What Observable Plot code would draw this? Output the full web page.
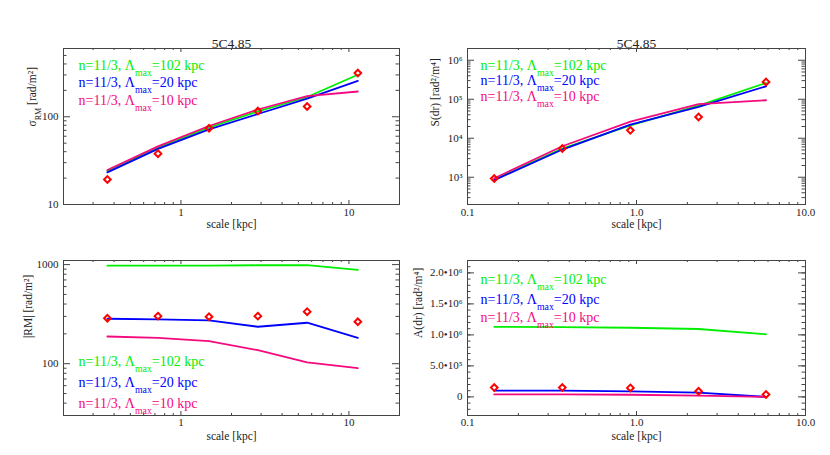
<!DOCTYPE html>
<html><head><meta charset="utf-8">
<script src="https://cdn.jsdelivr.net/npm/d3@7"></script>
<script src="https://cdn.jsdelivr.net/npm/@observablehq/plot@0.6"></script>
<style>
body{margin:0;background:#fff;}
#chart{position:relative;width:830px;height:455px;overflow:hidden;}
#chart svg{position:absolute;}
</style></head><body><div id="chart"></div>
<script>
// ---------- data ----------
const title = "5C4.85";
const xLabel = "scale [kpc]";
const legendLabels = ["n=11/3, Λ_{max}=102 kpc", "n=11/3, Λ_{max}=20 kpc", "n=11/3, Λ_{max}=10 kpc"];
const seriesColors = ["#00ee00", "#0000ff", "#f5097f"];
const obsColor = "#ff0000";

// scales (kpc)
const scaleRM = [0.365, 0.73, 1.47, 2.87, 5.64, 11.3];
const scaleS  = [0.144, 0.364, 0.92, 2.33, 5.84];

// panel 1: sigma_RM
const sigmaObs = [19.3, 38, 74, 116, 131, 315];
const sigma102 = [24.1, 44.7, 75.8, 115, 168, 301];
const sigma20  = [23.2, 43, 71.8, 107.5, 161, 256];
const sigma10  = [24.7, 45.9, 78.5, 121, 172, 194];

// panel 2: structure function S(dr)
const sObs = [930, 5440, 16000, 35200, 278000];
const s102 = [875, 5440, 21300, 68800, 262000];
const s20  = [840, 5130, 22400, 63500, 215000];
const s10  = [940, 6240, 26800, 74500, 94200];

// panel 3: |RM|
const rmObs = [288, 302, 298, 302, 335, 265];
const rm102 = [975, 975, 978, 985, 988, 885];
const rm20  = [284, 280, 273, 236, 259, 182];
const rm10  = [188, 182, 169, 137, 103, 90];

// panel 4: A(dr)
const aObs = [150000, 150000, 145000, 90000, 40000];
const a102 = [1130000, 1125000, 1115000, 1095000, 1010000];
const a20  = [100000, 100000, 90000, 70000, 0];
const a10  = [40000, 40000, 35000, 20000, 0];

// tick labels
const xTicksRM = [1, 10],            xTickLabelsRM = ["1", "10"];
const xTicksS  = [0.1, 1, 10],       xTickLabelsS  = ["0.1", "1.0", "10.0"];
const yTicksSigma = [10, 100],       yTickLabelsSigma = ["10", "100"];
const yTicksS  = [1e3, 1e4, 1e5, 1e6], yTickLabelsS = ["10³", "10⁴", "10⁵", "10⁶"];
const yTicksRM = [100, 1000],        yTickLabelsRM = ["100", "1000"];
const yTicksA  = [0, 5e5, 1e6, 1.5e6, 2e6], yTickLabelsA = ["0", "5.0•10⁵", "1.0•10⁶", "1.5•10⁶", "2.0•10⁶"];

// ---------- helpers ----------
function logMinor(lo, hi) {
  const out = [];
  for (let k = Math.floor(Math.log10(lo)); k <= Math.ceil(Math.log10(hi)); k++)
    for (let m = 2; m <= 9; m++) { const v = m * Math.pow(10, k); if (v >= lo && v <= hi) out.push(v); }
  return out;
}
function linMinor(lo, hi, step) {
  const out = [];
  for (let v = Math.ceil(lo / step) * step; v <= hi + 1e-9; v += step) out.push(v);
  return out;
}
const FONT = "Liberation Serif";
const INK = "#222";

function richify(svg) {
  svg.querySelectorAll("text").forEach(t => {
    const s = t.textContent;
    if (!/_\{/.test(s)) return;
    const parts = s.split(/(_\{[^}]*\})/).filter(p => p.length);
    while (t.firstChild) t.removeChild(t.firstChild);
    let pending = null;
    parts.forEach(p => {
      const ts = document.createElementNS("http://www.w3.org/2000/svg", "tspan");
      if (p.startsWith("_{")) {
        ts.textContent = p.slice(2, -1);
        ts.setAttribute("font-size", "70%");
        ts.setAttribute("dy", "0.6em");
        pending = "-0.42em";
      } else {
        ts.textContent = p;
        if (pending) { ts.setAttribute("dy", pending); pending = null; }
      }
      t.appendChild(ts);
    });
  });
}

function panel(c) {
  const fw = c.width - c.ml - c.mr, fh = c.height - c.mt - c.mb;
  const rowsOf = ys => c.xs.map((x, j) => ({x, y: ys[j]}));
  const T = {fontFamily: FONT, fill: INK};
  const marks = [
    Plot.frame({stroke: "#444", strokeWidth: 1}),
    Plot.ruleX(c.xMajor, {x: d => d, insetTop: fh - 4, stroke: "#444"}),
    Plot.ruleX(c.xMajor, {x: d => d, insetBottom: fh - 4, stroke: "#444"}),
    Plot.ruleX(c.xMinor, {x: d => d, insetTop: fh - 2, stroke: "#444"}),
    Plot.ruleX(c.xMinor, {x: d => d, insetBottom: fh - 2, stroke: "#444"}),
    Plot.ruleY(c.yMajor, {y: d => d, insetRight: fw - 7, stroke: "#444"}),
    Plot.ruleY(c.yMajor, {y: d => d, insetLeft: fw - 7, stroke: "#444"}),
    Plot.ruleY(c.yMinor, {y: d => d, insetRight: fw - 3.5, stroke: "#444"}),
    Plot.ruleY(c.yMinor, {y: d => d, insetLeft: fw - 3.5, stroke: "#444"}),
    Plot.text(c.xMajor, {x: d => d, frameAnchor: "bottom", dy: c.xTickDy, text: (d, i) => c.xLabels[i], fontSize: 11, ...T}),
    Plot.text(c.yMajor, {y: d => d, frameAnchor: "left", dx: -5, textAnchor: "end", text: (d, i) => c.yLabels[i], fontSize: 11, ...T}),
    Plot.text([xLabel], {frameAnchor: "bottom", dy: c.xLabelDy, text: d => d, fontSize: 11.5, ...T}),
    Plot.text([c.ylabel], {frameAnchor: "left", dx: c.ylabelDx, rotate: -90, text: d => d, fontSize: 11.5, ...T}),
    ...c.models.map((ys, i) => Plot.line(rowsOf(ys), {x: "x", y: "y", stroke: seriesColors[i], strokeWidth: 1.8})),
    Plot.dot(rowsOf(c.obs), {x: "x", y: "y", symbol: "diamond2", r: 3, stroke: obsColor, strokeWidth: 2, fill: "none"}),
    ...legendLabels.map((lab, i) => Plot.text([lab], {frameAnchor: "top-left", dx: c.legendDx, dy: c.legendDy[i], textAnchor: "start", text: d => d, fontFamily: FONT, fill: seriesColors[i], fontSize: 14}))
  ];
  if (c.showTitle) marks.push(Plot.text([title], {frameAnchor: "top", dy: -10, text: d => d, fontSize: 13.5, ...T}));
  const svg = Plot.plot({
    width: c.width, height: c.height,
    marginTop: c.mt, marginRight: c.mr, marginBottom: c.mb, marginLeft: c.ml,
    style: {fontFamily: FONT, background: "transparent", overflow: "visible"},
    x: {type: c.xType, domain: c.xDomain, axis: null},
    y: {type: c.yType, domain: c.yDomain, axis: null},
    marks
  });
  richify(svg);
  svg.style.left = c.left + "px";
  svg.style.top = c.top + "px";
  document.getElementById("chart").appendChild(svg);
}

panel({
  left: 0, top: 0, width: 415, height: 235, mt: 48, mr: 16, mb: 31, ml: 63,
  xType: "log", xDomain: [0.2, 20], yType: "log", yDomain: [10, 600],
  xMajor: xTicksRM, xMinor: logMinor(0.2, 20), xLabels: xTickLabelsRM,
  yMajor: yTicksSigma, yMinor: logMinor(10, 600), yLabels: yTickLabelsSigma,
  xs: scaleRM, obs: sigmaObs, models: [sigma102, sigma20, sigma10],
  ylabel: "σ_{RM} [rad/m²]", ylabelDx: -31, xTickDy: 11, xLabelDy: 23,
  legendDx: 15, legendDy: [11.5, 29, 46.3], showTitle: true
});
panel({
  left: 415, top: 0, width: 415, height: 235, mt: 48, mr: 25, mb: 31, ml: 52,
  xType: "log", xDomain: [0.1, 10], yType: "log", yDomain: [200, 2e6],
  xMajor: xTicksS, xMinor: logMinor(0.1, 10), xLabels: xTickLabelsS,
  yMajor: yTicksS, yMinor: logMinor(200, 2e6), yLabels: yTickLabelsS,
  xs: scaleS, obs: sObs, models: [s102, s20, s10],
  ylabel: "S(dr) [rad²/m⁴]", ylabelDx: -32, xTickDy: 11, xLabelDy: 23,
  legendDx: 13, legendDy: [12, 26.5, 42.5], showTitle: true
});
panel({
  left: 0, top: 235, width: 415, height: 220, mt: 25, mr: 16, mb: 40, ml: 63,
  xType: "log", xDomain: [0.2, 20], yType: "log", yDomain: [30, 1100],
  xMajor: xTicksRM, xMinor: logMinor(0.2, 20), xLabels: xTickLabelsRM,
  yMajor: yTicksRM, yMinor: logMinor(30, 1100), yLabels: yTickLabelsRM,
  xs: scaleRM, obs: rmObs, models: [rm102, rm20, rm10],
  ylabel: "|RM| [rad/m²]", ylabelDx: -35, xTickDy: 10, xLabelDy: 24,
  legendDx: 15, legendDy: [96, 117, 138], showTitle: false
});
panel({
  left: 415, top: 235, width: 415, height: 220, mt: 25, mr: 25, mb: 40, ml: 52,
  xType: "log", xDomain: [0.1, 10], yType: "linear", yDomain: [-3e5, 2.2e6],
  xMajor: xTicksS, xMinor: logMinor(0.1, 10), xLabels: xTickLabelsS,
  yMajor: yTicksA, yMinor: linMinor(-3e5, 2.2e6, 1e5), yLabels: yTickLabelsA,
  xs: scaleS, obs: aObs, models: [a102, a20, a10],
  ylabel: "A(dr) [rad²/m⁴]", ylabelDx: -49, xTickDy: 10, xLabelDy: 24,
  legendDx: 13, legendDy: [14, 34, 52], showTitle: false
});
</script></body></html>
